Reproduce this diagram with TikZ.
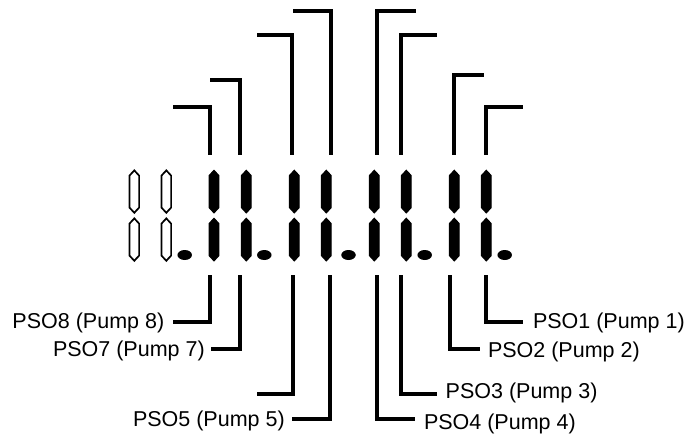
\documentclass[tikz,border=0pt]{standalone}
\usepackage{fontspec}
\setmainfont{Liberation Sans}
\usetikzlibrary{shapes.geometric}
\tikzset{
  lead/.style={draw=black,line width=3.8pt,line join=miter},
  lab/.style={inner sep=0pt,outer sep=0pt,anchor=base west,font=\fontsize{21.5}{24}\selectfont,text=black},
  segon/.style={fill=black,draw=black,line width=1.2pt,line join=miter},
  segoff/.style={fill=white,draw=black,line width=1.7pt,line join=miter},
  dp/.style={ellipse,fill=black,draw=none,minimum width=14.5pt,minimum height=10pt,inner sep=0pt},
  pics/seg/.style={code={
    \path[#1] (0,-21.2) -- (4.8,-16) -- (4.8,16) -- (0,21.2) -- (-4.8,16) -- (-4.8,-16) -- cycle;
  }}
}
\begin{document}
\begin{tikzpicture}[x=1pt,y=-1pt]
\useasboundingbox (0,0) rectangle (686,441);
% digit segments
\foreach \n/\xx/\st in {a/134.3/segoff,b/166.3/segoff,c/214/segon,d/246.3/segon,e/294.3/segon,f/326.3/segon,g/374.3/segon,h/406.3/segon,i/454.3/segon,j/486.3/segon}{
  \pic at (\xx,191.6) {seg=\st};
  \pic at (\xx,239.6) {seg=\st};
}
% decimal points
\foreach \n/\xx in {1/184.7,2/264.3,3/348.5,4/424.7,5/504.7}{
  \node[dp] (dot\n) at (\xx,255) {};
}
% labels
\node[lab] (l8) at (12.5,328.6) {PSO8 (Pump 8)};
\node[lab] (l7) at (53,356) {PSO7 (Pump 7)};
\node[lab] (l5) at (133,426) {PSO5 (Pump 5)};
\node[lab] (l1) at (533,328) {PSO1 (Pump 1)};
\node[lab] (l2) at (488,357.6) {PSO2 (Pump 2)};
\node[lab] (l3) at (445.7,398.6) {PSO3 (Pump 3)};
\node[lab] (l4) at (424,429.3) {PSO4 (Pump 4)};
% upper leaders
\foreach \n/\xx/\yy/\ex in {u8/210/106.7/172.7,u7/240.3/80/210.3,u6/292.3/34.7/256.7,u5/331/10.7/292.7,u4/377.3/10.7/415.7,u3/401.3/34.7/437,u2/453.7/74.7/484,u1/485.7/106.7/522.7}{
  \coordinate (\n s) at (\xx,155);
  \coordinate (\n c) at (\xx,\yy);
  \coordinate (\n e) at (\ex,\yy);
  \draw[lead] (\n s) -- (\n c) -- (\n e);
}
% lower leaders
\foreach \n/\xx/\yy/\ex in {d8/210/322.3/173.3,d7/240.3/349.3/211,d6/293/394.3/257,d5/330/418.7/291.7,d4/377.3/418.7/415,d3/400.7/394.3/437,d2/450.3/349/480,d1/485.7/322.3/522.7}{
  \coordinate (\n s) at (\xx,275);
  \coordinate (\n c) at (\xx,\yy);
  \coordinate (\n e) at (\ex,\yy);
  \draw[lead] (\n s) -- (\n c) -- (\n e);
}
\end{tikzpicture}
\end{document}
